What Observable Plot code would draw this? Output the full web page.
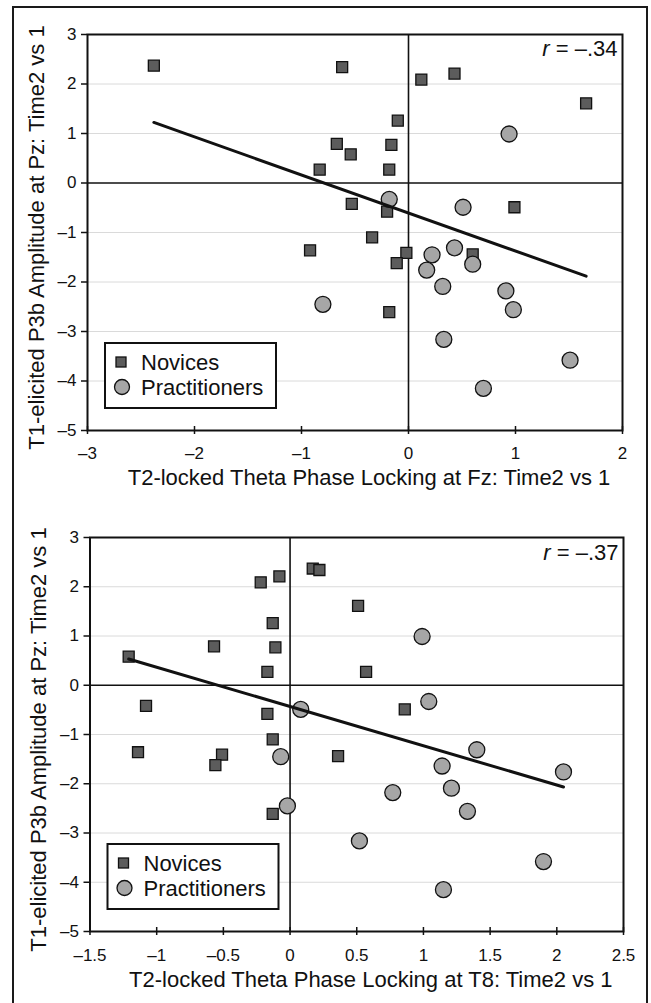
<!DOCTYPE html>
<html>
<head>
<meta charset="utf-8">
<script src="https://cdn.jsdelivr.net/npm/d3@7"></script>
<script src="https://cdn.jsdelivr.net/npm/@observablehq/plot@0.6"></script>
<style>
  html, body { margin: 0; padding: 0; background: #fff; overflow: hidden; }
  #wrap { position: relative; width: 651px; height: 1003px; background: #fff; }
  #border { position: absolute; left: 12px; top: 6px; width: 636px; height: 1030px; box-sizing: border-box;
            border: 2.5px solid #1a1a1a; pointer-events: none; z-index: 10; }
  .panel { position: absolute; left: 0; z-index: 1; }
</style>
</head>
<body>
<div id="wrap">
  <div id="p1" class="panel" style="top:0px"></div>
  <div id="p2" class="panel" style="top:490px"></div>
  <div id="border"></div>
</div>
<script>
// ---------------- data ----------------
const groups = ["Novices", "Practitioners"];

// T1-elicited P3b amplitude (Time2 vs 1), shared by both panels
const novicesP3b = [2.37, 2.34, 2.21, 2.09, 1.61, 1.26, 0.79, 0.77, 0.58, 0.27, 0.27, -0.42, -0.49, -0.58, -1.10, -1.36, -1.41, -1.44, -1.62, -2.61];
// T2-locked theta phase locking at Fz (Time2 vs 1)
const novicesFz  = [-2.38, -0.62, 0.43, 0.12, 1.66, -0.10, -0.67, -0.16, -0.54, -0.83, -0.18, -0.53, 0.99, -0.20, -0.34, -0.92, -0.02, 0.60, -0.11, -0.18];
// T2-locked theta phase locking at T8 (Time2 vs 1)
const novicesT8  = [0.17, 0.22, -0.08, -0.22, 0.51, -0.13, -0.57, -0.11, -1.21, -0.17, 0.57, -1.08, 0.86, -0.17, -0.13, -1.14, -0.51, 0.36, -0.56, -0.13];

const practP3b = [0.99, -0.33, -0.49, -1.31, -1.45, -1.64, -1.76, -2.09, -2.18, -2.45, -2.56, -3.16, -3.58, -4.15];
const practFz  = [0.94, -0.18, 0.51, 0.43, 0.22, 0.60, 0.17, 0.32, 0.91, -0.80, 0.98, 0.33, 1.51, 0.70];
const practT8  = [0.99, 1.04, 0.08, 1.40, -0.07, 1.14, 2.05, 1.21, 0.77, -0.02, 1.33, 0.52, 1.90, 1.15];

const yTicks = [-5, -4, -3, -2, -1, 0, 1, 2, 3];
const xTicksFz = [-3, -2, -1, 0, 1, 2];
const xTicksT8 = [-1.5, -1, -0.5, 0, 0.5, 1, 1.5, 2, 2.5];

const yLabel = "T1-elicited P3b Amplitude at Pz: Time2 vs 1";
const xLabels = ["T2-locked Theta Phase Locking at Fz: Time2 vs 1", "T2-locked Theta Phase Locking at T8: Time2 vs 1"];
const rValues = ["–.34", "–.37"];

// ---------------- drawing ----------------
const FONT = "'Liberation Sans', Arial, Helvetica, sans-serif";
const fmt = d => d < 0 ? "–" + String(Math.abs(d)) : String(d);

function rowsFor(novX, pracX) {
  return [
    ...novicesP3b.map((y, i) => ({group: groups[0], x: novX[i], y})),
    ...practP3b.map((y, i) => ({group: groups[1], x: pracX[i], y}))
  ];
}

const panels = [
  {el: "#p1", height: 490, marginTop: 34, marginBottom: 60, marginLeft: 87, marginRight: 29,
   xTicks: xTicksFz, rows: rowsFor(novicesFz, practFz), xLabel: xLabels[0], r: rValues[0],
   xPad: 12, xTitleDy: 47, rDy: 14},
  {el: "#p2", height: 513, marginTop: 47, marginBottom: 72, marginLeft: 89.5, marginRight: 28,
   xTicks: xTicksT8, rows: rowsFor(novicesT8, practT8), xLabel: xLabels[1], r: rValues[1],
   xPad: 13, xTitleDy: 48, rDy: 15}
];

function drawPanel(cfg) {
  const frameH = cfg.height - cfg.marginTop - cfg.marginBottom;
  const nov = cfg.rows.filter(d => d.group === groups[0]);
  const pra = cfg.rows.filter(d => d.group === groups[1]);
  const svg = Plot.plot({
    width: 651,
    height: cfg.height,
    marginTop: cfg.marginTop, marginBottom: cfg.marginBottom,
    marginLeft: cfg.marginLeft, marginRight: cfg.marginRight,
    style: {fontFamily: FONT, fontSize: "17px", color: "#111", background: "white"},
    x: {domain: [cfg.xTicks[0], cfg.xTicks[cfg.xTicks.length - 1]]},
    y: {domain: [yTicks[0], yTicks[yTicks.length - 1]]},
    marks: [
      Plot.ruleY(yTicks.filter(d => d !== 0), {y: d => d, stroke: "#dadada", strokeWidth: 1}),
      Plot.ruleX([0], {x: d => d, stroke: "#111", strokeWidth: 1.6}),
      Plot.ruleY([0], {y: d => d, stroke: "#111", strokeWidth: 1.6}),
      Plot.ruleX(cfg.xTicks, {x: d => d, insetTop: frameH - 4, stroke: "#111", strokeWidth: 1.5}),
      Plot.axisX({ticks: cfg.xTicks, tickSize: 4, tickPadding: cfg.xPad, tickFormat: fmt, fontSize: 17, label: null, strokeWidth: 1.5}),
      Plot.axisY({ticks: yTicks, tickSize: 6, tickPadding: 5, tickFormat: fmt, fontSize: 17, label: null, strokeWidth: 1.5}),
      Plot.dot(nov, {x: "x", y: "y", symbol: "square", r: 6.2, fill: "#5c5c5c", stroke: "#111", strokeWidth: 1.3}),
      Plot.dot(pra, {x: "x", y: "y", symbol: "circle", r: 8, fill: "#a6a6a6", stroke: "#111", strokeWidth: 1.3}),
      Plot.linearRegressionY(cfg.rows, {x: "x", y: "y", ci: 0, stroke: "#111", strokeWidth: 3}),
      Plot.frame({stroke: "#111", strokeWidth: 2}),
      Plot.text([cfg.xLabel], {text: d => d, frameAnchor: "bottom", dx: 14, dy: cfg.xTitleDy, textAnchor: "middle", lineAnchor: "middle", fontSize: 22, fill: "#111"}),
      Plot.text([yLabel], {text: d => d, frameAnchor: "left", rotate: -90, dx: -51, dy: 5, textAnchor: "middle", lineAnchor: "middle", fontSize: 22, fill: "#111"}),
      Plot.text([cfg.r], {text: d => "r = " + d, frameAnchor: "top-right", dx: -5, dy: cfg.rDy, textAnchor: "end", lineAnchor: "middle", fontSize: 22, fill: "#111"})
    ]
  });

  const s = d3.select(svg);
  // italic r
  s.selectAll("text").filter(function () { return this.textContent.startsWith("r = "); }).each(function () {
    const t = d3.select(this);
    const rest = this.textContent.slice(1);
    t.text(null);
    t.append("tspan").attr("font-style", "italic").text("r");
    t.append("tspan").text(rest);
  });

  // legend box inside the frame (bottom-left)
  const lx = cfg.marginLeft + 18;
  const ly = cfg.height - cfg.marginBottom - 22 - 65;
  const lg = s.append("g").attr("font-family", FONT).attr("font-size", 22).attr("fill", "#111").attr("text-anchor", "start");
  lg.append("rect").attr("x", lx).attr("y", ly).attr("width", 171).attr("height", 65)
    .attr("fill", "white").attr("stroke", "#111").attr("stroke-width", 2);
  lg.append("rect").attr("x", lx + 11).attr("y", ly + 14).attr("width", 10).attr("height", 10)
    .attr("fill", "#5c5c5c").attr("stroke", "#111").attr("stroke-width", 1.3);
  lg.append("circle").attr("cx", lx + 17).attr("cy", ly + 44).attr("r", 7.5)
    .attr("fill", "#a6a6a6").attr("stroke", "#111").attr("stroke-width", 1.3);
  groups.forEach((g, i) => {
    lg.append("text").attr("x", lx + 36).attr("y", ly + 19 + i * 25).attr("dy", "0.36em")
      .attr("text-anchor", "start").text(g);
  });

  document.querySelector(cfg.el).appendChild(svg);
}

panels.forEach(drawPanel);
</script>
</body>
</html>
